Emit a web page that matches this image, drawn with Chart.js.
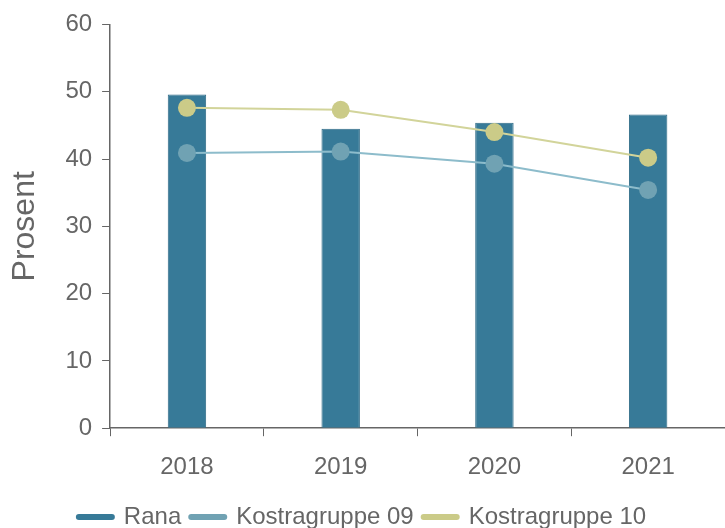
<!DOCTYPE html>
<html>
<head>
<meta charset="utf-8">
<script src="https://cdn.jsdelivr.net/npm/chart.js@4/dist/chart.umd.min.js"></script>
<style>
    html, body { margin: 0; padding: 0; background: #fff; }
    #wrap { width: 725px; height: 528px; }
</style>
</head>
<body>
<div id="wrap"><canvas id="chart_prosent"></canvas></div>
<script>
const YEARS = ["2018", "2019", "2020", "2021"];
const RANA = [49.6, 44.5, 45.4, 46.6];
const KOSTRA_09 = [40.9, 41.1, 39.3, 35.4];
const KOSTRA_10 = [47.6, 47.3, 44.0, 40.2];

const FONT = "'Liberation Sans', Arial, sans-serif";
const GREY = "#666666";

const ctx = document.getElementById("chart_prosent");
const prosentChart = new Chart(ctx, {
    type: "bar",
    data: {
        labels: YEARS,
        datasets: [
            {
                label: "Rana",
                data: RANA,
                backgroundColor: "#377a98",
                borderColor: "#2e6a86",
                borderWidth: 1,
                barPercentage: 0.25,
                categoryPercentage: 1,
                order: 3,
            },
            {
                type: "line",
                label: "Kostragruppe 09",
                data: KOSTRA_09,
                borderColor: "#8dbccb",
                backgroundColor: "#70a2b3",
                borderWidth: 2,
                pointRadius: 9,
                pointBorderWidth: 0,
                order: 2,
            },
            {
                type: "line",
                label: "Kostragruppe 10",
                data: KOSTRA_10,
                borderColor: "#d2d49a",
                backgroundColor: "#cbcb88",
                borderWidth: 2,
                pointRadius: 9,
                pointBorderWidth: 0,
                order: 1,
            },
        ],
    },
    options: {
        responsive: true,
        maintainAspectRatio: false,
        animation: false,
        layout: {
            autoPadding: false,
            padding: { top: 19, right: 0, left: 0, bottom: -11 },
        },
        plugins: {
            tooltip: { enabled: false },
            legend: {
                position: "bottom",
                labels: {
                    usePointStyle: true,
                    pointStyleWidth: 33,
                    padding: 10,
                    color: GREY,
                    font: { family: FONT, size: 24 },
                    generateLabels: (chart) =>
                        chart.data.datasets.map((ds, i) => ({
                            text: ds.label,
                            fillStyle: ds.backgroundColor,
                            strokeStyle: ds.backgroundColor,
                            lineWidth: 6,
                            lineCap: "round",
                            pointStyle: "line",
                            fontColor: GREY,
                            datasetIndex: i,
                        })),
                },
            },
        },
        scales: {
            x: {
                offset: true,
                afterFit: (scale) => {
                    scale.height -= 4;
                    scale.paddingLeft = 0;
                    scale.paddingRight = 0;
                },
                grid: {
                    offset: true,
                    drawOnChartArea: false,
                    drawTicks: true,
                    tickLength: 8,
                    color: GREY,
                },
                border: { color: GREY, width: 1.5 },
                ticks: {
                    color: GREY,
                    padding: 17,
                    font: { family: FONT, size: 24 },
                },
            },
            y: {
                min: 0,
                max: 60,
                ticks: {
                    stepSize: 10,
                    color: GREY,
                    padding: 10,
                    font: { family: FONT, size: 24 },
                },
                grid: {
                    drawOnChartArea: false,
                    drawTicks: true,
                    tickLength: 8,
                    color: GREY,
                },
                border: { color: GREY, width: 1.5 },
                title: {
                    display: true,
                    text: "Prosent",
                    color: GREY,
                    padding: { top: 6, bottom: 11 },
                    font: { family: FONT, size: 32 },
                },
            },
        },
    },
});
</script>
</body>
</html>
